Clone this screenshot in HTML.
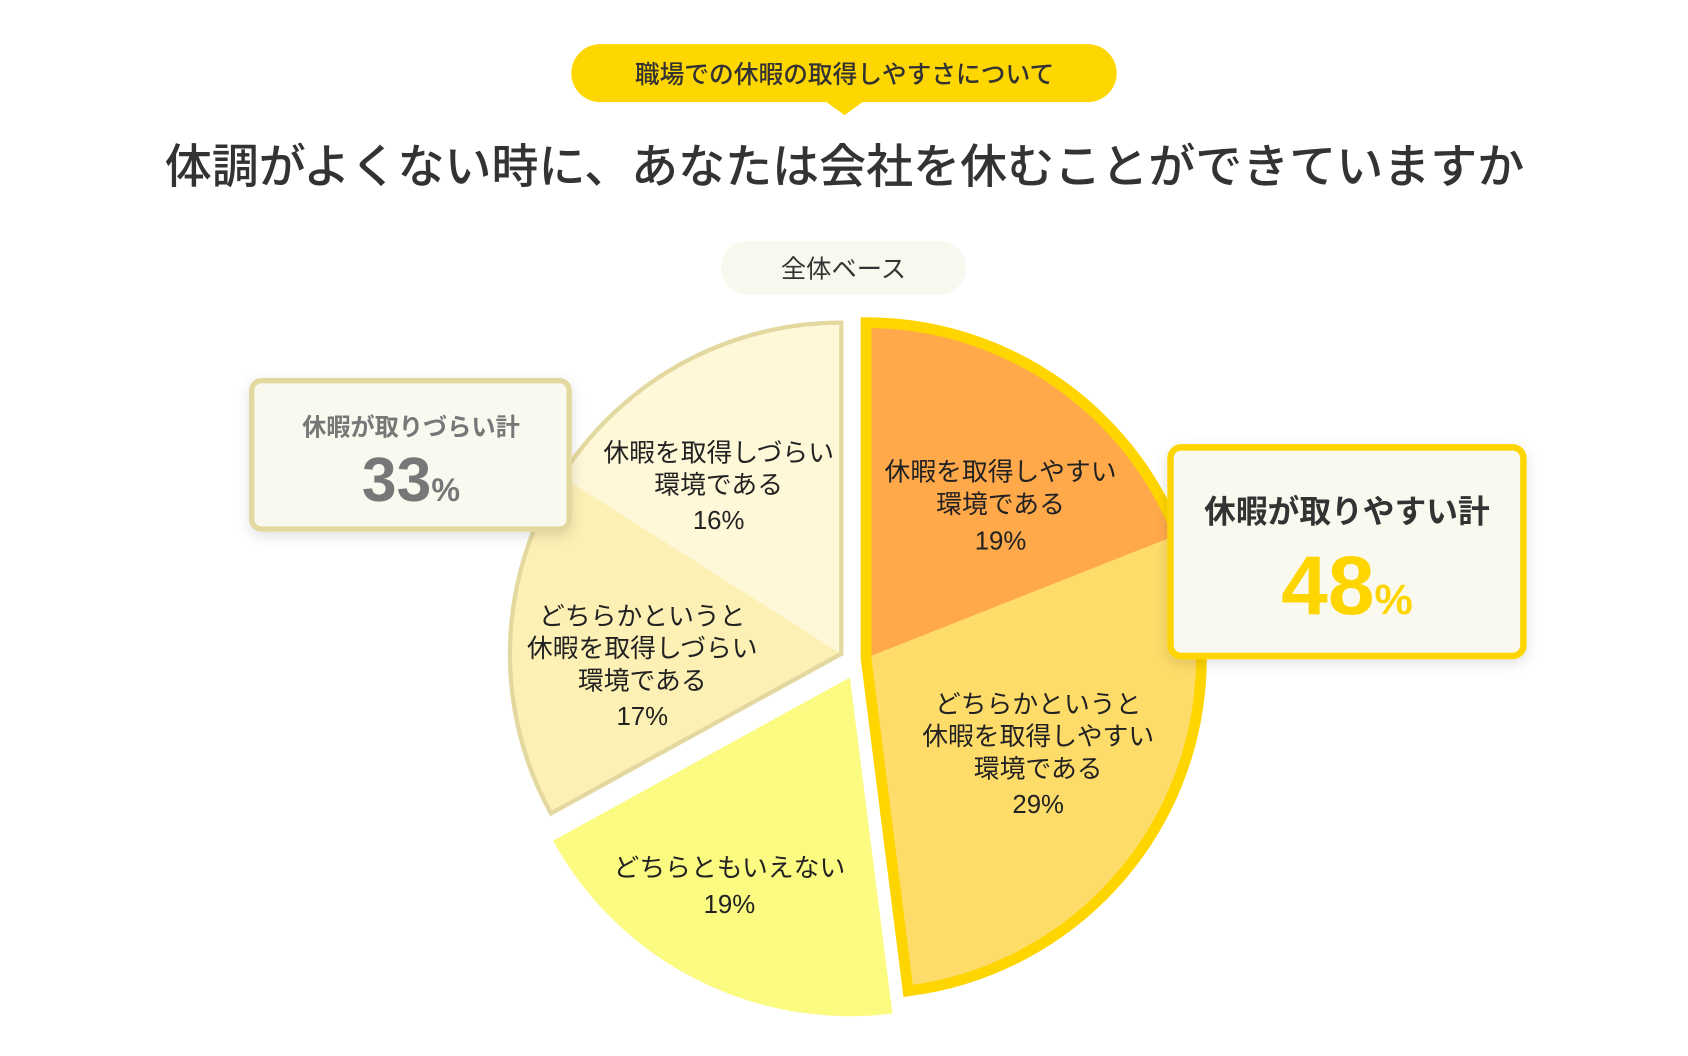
<!DOCTYPE html>
<html><head><meta charset="utf-8"><style>
html,body{margin:0;padding:0;background:#fff;}
svg{display:block;}
text{font-family:"Liberation Sans","Noto Sans CJK JP",sans-serif;}
</style></head><body>
<svg width="1688" height="1056" viewBox="0 0 1569 982" preserveAspectRatio="none" xmlns="http://www.w3.org/2000/svg">
<defs>
<filter id="sh" x="-20%" y="-20%" width="140%" height="140%">
<feDropShadow dx="0" dy="4" stdDeviation="6" flood-color="#000" flood-opacity="0.12"/>
</filter>
</defs>
<rect x="0" y="0" width="1569" height="982" fill="#fff"/>
<rect x="531" y="41" width="507" height="54" rx="27" fill="#FFD700"/>
<polygon points="767,94 803,94 785,107" fill="#FFD700"/>
<text x="785" y="77" font-size="23" font-weight="500" fill="#333" text-anchor="middle">職場での休暇の取得しやすさについて</text>
<text x="785" y="170" font-size="43.7" font-weight="500" fill="#333" text-anchor="middle">体調がよくない時に、あなたは会社を休むことができていますか</text>
<rect x="670" y="224" width="228" height="50" rx="25" fill="#F8F8EE"/>
<text x="784" y="258" font-size="23.5" fill="#333" text-anchor="middle">全体ベース</text>

<path d="M805,612 L805,300 A312,312 0 0 1 1095.1,497.2 Z" fill="#FFA94A"/>
<path d="M805,612 L1095.1,497.2 A312,312 0 0 1 844.1,921.5 Z" fill="#FEDC6A"/>
<path d="M805,612 L805,300 A312,312 0 0 1 844.1,921.5 Z" fill="none" stroke="#FFD500" stroke-width="10" stroke-linejoin="miter"/>

<path d="M782,608 L512.1,756.4 A308,308 0 0 1 522,443 Z" fill="#FDF0B5"/>
<path d="M782,608 L522,443 A308,308 0 0 1 782,300 Z" fill="#FEF8D8"/>
<path d="M782,608 L512.1,756.4 A308,308 0 0 1 782,300 Z" fill="none" stroke="#E3D9A0" stroke-width="4"/>

<path d="M790,630 L829.5,942.5 A315,315 0 0 1 514,781.8 Z" fill="#FBFB82"/>

<g font-size="24" fill="#222" text-anchor="middle">
<text x="930" y="447">休暇を取得しやすい</text>
<text x="930" y="477">環境である</text>
<text x="930" y="511">19%</text>
<text x="965" y="663">どちらかというと</text>
<text x="965" y="693">休暇を取得しやすい</text>
<text x="965" y="723">環境である</text>
<text x="965" y="756">29%</text>
<text x="668" y="429">休暇を取得しづらい</text>
<text x="668" y="459">環境である</text>
<text x="668" y="492">16%</text>
<text x="597" y="581">どちらかというと</text>
<text x="597" y="611">休暇を取得しづらい</text>
<text x="597" y="641">環境である</text>
<text x="597" y="674">17%</text>
<text x="678" y="815">どちらともいえない</text>
<text x="678" y="849">19%</text>
</g>

<rect x="234" y="354" width="295" height="138" rx="9" fill="#F9F9F0" stroke="#E3D9A0" stroke-width="5" filter="url(#sh)"/>
<text x="382" y="405" font-size="22.5" font-weight="bold" fill="#777" text-anchor="middle">休暇が取りづらい計</text>
<text x="382" y="466" text-anchor="middle" fill="#777" font-weight="bold"><tspan font-size="58">33</tspan><tspan font-size="30">%</tspan></text>

<rect x="1088" y="416" width="328" height="194" rx="10" fill="#F9F9F0" stroke="#FFD500" stroke-width="6" filter="url(#sh)"/>
<text x="1252" y="486" font-size="29.5" font-weight="bold" fill="#333" text-anchor="middle">休暇が取りやすい計</text>
<text x="1252" y="571" text-anchor="middle" fill="#FFD500" font-weight="bold"><tspan font-size="78">48</tspan><tspan font-size="40">%</tspan></text>
</svg>
</body></html>
